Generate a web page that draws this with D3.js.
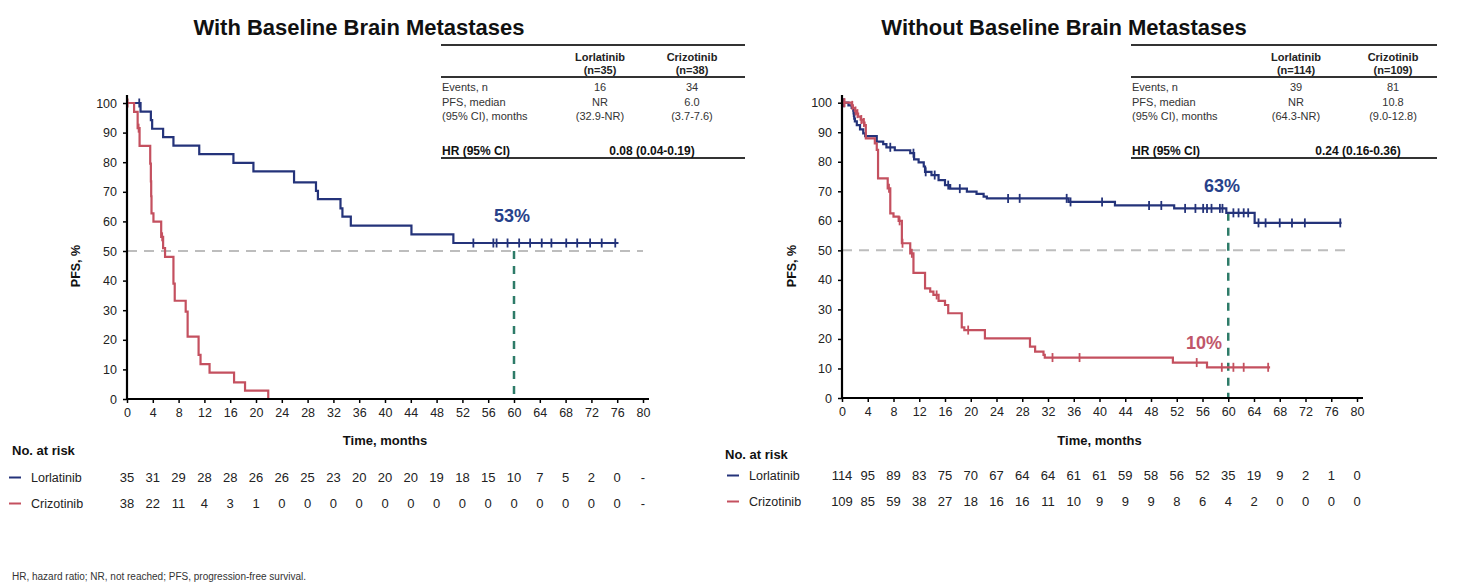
<!DOCTYPE html>
<html><head><meta charset="utf-8">
<script src="https://cdn.jsdelivr.net/npm/d3@7"></script>
<style>
body{margin:0;background:#fff;}
svg{display:block;font-family:"Liberation Sans",Arial,sans-serif;}
</style>
</head><body>
<svg id="c" width="1469" height="587"></svg>
<script>
// ---------------- DATA ----------------
const timeTicks = [0,4,8,12,16,20,24,28,32,36,40,44,48,52,56,60,64,68,72,76,80];
const pfsTicks = [0,10,20,30,40,50,60,70,80,90,100];
const armNames = ["Lorlatinib","Crizotinib"];

// With baseline brain metastases
const leftTitle = "With Baseline Brain Metastases";
const leftLorSteps = [[2.1,97.1],[3.7,94.2],[3.9,91.3],[5.6,88.5],[7.2,85.6],[11.2,82.7],[16.5,79.8],[19.6,76.9],[25.9,73.2],[29.3,70.3],[29.6,67.5],[33.1,64.4],[33.4,61.6],[34.7,58.6],[44.1,55.6],[50.6,52.7]];
const leftLorCensor = [1.9,53.7,56.8,57.3,59.0,60.8,62.5,64.3,65.8,68.1,69.8,71.8,73.6,75.7];
const leftLorEnd = 76.2;
const leftCriSteps = [[1.1,97.0],[1.65,91.5],[1.95,85.5],[3.6,79.5],[3.7,73.5],[3.75,68.5],[3.8,62.7],[4.1,59.9],[5.3,54.8],[5.6,51.0],[5.9,48.0],[7.2,39.0],[7.4,33.2],[9.1,29.5],[9.4,21.1],[11.1,14.9],[11.4,11.8],[12.8,8.9],[16.6,5.6],[18.3,2.8],[21.9,0]];
const leftCriCensor = [0.1,1.8,5.45];
const leftCriEnd = 21.9;
const leftTableHead = [["Lorlatinib","(n=35)"],["Crizotinib","(n=38)"]];
const leftTableRows = [["Events, n","16","34"],["PFS, median","NR","6.0"],["(95% CI), months","(32.9-NR)","(3.7-7.6)"]];
const leftHR = "0.08 (0.04-0.19)";
const leftLorRisk = ["35","31","29","28","28","26","26","25","23","20","20","20","19","18","15","10","7","5","2","0","-"];
const leftCriRisk = ["38","22","11","4","3","1","0","0","0","0","0","0","0","0","0","0","0","0","0","0","-"];
const leftLandmark = {time:60, label:"53%", from:50};

// Without baseline brain metastases
const rightTitle = "Without Baseline Brain Metastases";
const rightLorSteps = [[1.0,99.1],[1.5,98.2],[1.75,97.3],[1.8,96.4],[1.85,95.5],[1.9,94.6],[2.0,93.7],[2.3,92.4],[2.8,91.0],[3.3,89.6],[3.6,88.7],[5.4,86.8],[6.4,86.0],[6.9,84.9],[8.2,83.9],[10.6,82.9],[11.2,80.8],[11.9,79.8],[12.7,78.4],[12.9,76.6],[13.9,75.5],[15.0,73.8],[16.0,72.1],[16.8,70.9],[19.4,69.9],[20.9,69.1],[22.0,68.2],[22.5,67.6],[35.2,66.4],[42.4,65.2],[51.6,64.2],[59.7,62.7],[64.1,59.3]];
const rightLorCensor = [0.3,7.5,11.1,13.0,14.4,16.5,18.3,25.8,27.6,34.9,35.5,40.4,47.7,49.6,53.3,54.9,56.1,56.7,57.4,58.7,59.1,60.8,61.6,62.4,63.1,64.7,65.8,68.0,69.9,71.9,77.4];
const rightLorEnd = 77.6;
const rightCriSteps = [[1.5,99.1],[1.7,98.2],[2.0,97.2],[2.2,96.3],[2.5,95.3],[2.9,94.3],[3.3,93.3],[3.5,92.4],[3.7,87.9],[5.1,86.2],[5.4,84.0],[5.6,74.4],[7.1,71.0],[7.5,62.5],[8.0,61.4],[8.8,60.0],[9.3,52.4],[10.6,49.0],[11.1,42.4],[12.9,37.1],[13.7,36.0],[14.2,34.9],[15.0,32.9],[16.0,31.5],[16.5,28.7],[18.6,23.9],[19.0,23.0],[22.2,20.2],[29.2,17.4],[30.0,15.7],[31.3,14.6],[31.5,13.7],[51.4,12.0],[56.7,10.4]];
const rightCriCensor = [0.1,0.4,1.6,2.1,2.4,3.0,3.4,7.3,8.95,9.4,10.85,14.7,19.6,32.7,36.9,55.1,59.0,60.8,62.4,66.2];
const rightCriEnd = 66.5;
const rightTableHead = [["Lorlatinib","(n=114)"],["Crizotinib","(n=109)"]];
const rightTableRows = [["Events, n","39","81"],["PFS, median","NR","10.8"],["(95% CI), months","(64.3-NR)","(9.0-12.8)"]];
const rightHR = "0.24 (0.16-0.36)";
const rightLorRisk = ["114","95","89","83","75","70","67","64","64","61","61","59","58","56","52","35","19","9","2","1","0"];
const rightCriRisk = ["109","85","59","38","27","18","16","16","11","10","9","9","9","8","6","4","2","0","0","0","0"];
const rightLandmark = {time:60, label:"63%", from:62.7, label2:"10%"};

const footnote = "HR, hazard ratio; NR, not reached; PFS, progression-free survival.";

// ---------------- STYLE ----------------
const NAVY = "#24337a", RED = "#c4505f", TEAL = "#2d7b68", GRAY = "#bdbdbd", TXT = "#333";
const svg = d3.select("#c");

function survAt(steps, t){
  let v = 100;
  for (const s of steps){ if (s[0] <= t) v = s[1]; }
  return v;
}

function panel(o){
  const x = d3.scaleLinear().domain([0,80]).range([o.x0,o.x1]);
  const y = d3.scaleLinear().domain([0,100]).range([o.y0,o.y1]);
  const g = svg.append("g");

  // title
  svg.append("text").attr("x",o.titleX).attr("y",35).attr("text-anchor","middle")
    .attr("font-size",22).attr("font-weight","bold").attr("fill","#111").text(o.title);

  // 50% reference
  g.append("line").attr("x1",x(0)).attr("x2",x(o.refEnd)).attr("y1",y(50)).attr("y2",y(50))
    .attr("stroke",GRAY).attr("stroke-width",2).attr("stroke-dasharray","10,7");

  // landmark
  g.append("line").attr("x1",x(o.lm.time)).attr("x2",x(o.lm.time)).attr("y1",y(o.lm.from)).attr("y2",y(0))
    .attr("stroke",TEAL).attr("stroke-width",2.5).attr("stroke-dasharray","8,7");

  // curves
  const line = d3.line().x(d=>x(d[0])).y(d=>y(d[1])).curve(d3.curveStepAfter);
  o.arms.forEach(a=>{
    const pts = [[0,100], ...a.steps];
    pts.push([a.end, a.steps[a.steps.length-1][1]]);
    g.append("path").attr("d",line(pts)).attr("fill","none").attr("stroke",a.color).attr("stroke-width",2.2);
    g.selectAll(null).data(a.censor).enter().append("line")
      .attr("x1",d=>x(d)).attr("x2",d=>x(d))
      .attr("y1",d=>y(survAt(a.steps,d))-4.5).attr("y2",d=>y(survAt(a.steps,d))+4.5)
      .attr("stroke",a.color).attr("stroke-width",1.8);
  });

  // axes
  const xa = g.append("g").attr("transform",`translate(0,${o.y0})`)
    .call(d3.axisBottom(x).tickValues(timeTicks).tickSize(4).tickPadding(5).tickSizeOuter(0));
  const ya = g.append("g").attr("transform",`translate(${o.x0},0)`)
    .call(d3.axisLeft(y).tickValues(pfsTicks).tickSize(4).tickPadding(6).tickSizeOuter(0));
  [xa,ya].forEach(a=>{
    a.select(".domain").remove();
    a.selectAll(".tick line").attr("stroke","#000").attr("stroke-width",1.5);
    a.selectAll("text").attr("font-size",12.5).attr("fill","#222").attr("font-family","Liberation Sans, Arial, sans-serif");
  });
  g.append("line").attr("x1",o.x0).attr("x2",o.x0).attr("y1",o.y0+1).attr("y2",95).attr("stroke","#000").attr("stroke-width",2.2);
  g.append("line").attr("x1",o.x0-1).attr("x2",x(80)+6).attr("y1",o.y0).attr("y2",o.y0).attr("stroke","#000").attr("stroke-width",2.2);

  // axis labels
  svg.append("text").attr("transform",`translate(${o.yLabX},266) rotate(-90)`).attr("text-anchor","middle")
    .attr("font-size",12.5).attr("font-weight","bold").attr("fill","#111").text("PFS, %");
  svg.append("text").attr("x",(o.x0+x(80))/2).attr("y",445).attr("text-anchor","middle")
    .attr("font-size",13).attr("font-weight","bold").attr("fill","#111").text("Time, months");

  // percent labels
  o.pctLabels.forEach(p=>{
    svg.append("text").attr("x",p.x).attr("y",p.y).attr("text-anchor","middle")
      .attr("font-size",18).attr("font-weight","bold").attr("fill",p.color).text(p.text);
  });

  // table
  const t = o.table;
  const tg = svg.append("g").attr("font-size",11).attr("fill",TXT);
  tg.append("line").attr("x1",t.x0).attr("x2",t.x1).attr("y1",45).attr("y2",45).attr("stroke","#333").attr("stroke-width",2);
  tg.append("line").attr("x1",t.x0).attr("x2",t.x1).attr("y1",77).attr("y2",77).attr("stroke","#333").attr("stroke-width",2);
  tg.append("line").attr("x1",t.x0).attr("x2",t.x1).attr("y1",158).attr("y2",158).attr("stroke","#333").attr("stroke-width",2);
  t.head.forEach((h,i)=>{
    tg.append("text").attr("x",t.cols[i]).attr("y",61).attr("text-anchor","middle").attr("font-weight","bold").attr("fill","#222").text(h[0]);
    tg.append("text").attr("x",t.cols[i]).attr("y",74).attr("text-anchor","middle").attr("font-weight","bold").attr("fill","#222").text(h[1]);
  });
  t.rows.forEach((r,j)=>{
    const yy = 91 + j*14.5;
    tg.append("text").attr("x",t.x0+1).attr("y",yy).text(r[0]);
    tg.append("text").attr("x",t.cols[0]).attr("y",yy).attr("text-anchor","middle").text(r[1]);
    tg.append("text").attr("x",t.cols[1]).attr("y",yy).attr("text-anchor","middle").text(r[2]);
  });
  tg.append("text").attr("x",t.x0+1).attr("y",155).attr("font-weight","bold").attr("font-size",12).attr("fill","#111").text("HR (95% CI)");
  tg.append("text").attr("x",t.hrX).attr("y",155).attr("text-anchor","middle").attr("font-weight","bold").attr("font-size",12).attr("fill","#111").text(t.hr);

  // at risk
  const r = o.risk;
  svg.append("text").attr("x",r.labX).attr("y",r.headY).attr("font-size",13).attr("font-weight","bold").attr("fill","#111").text("No. at risk");
  r.rows.forEach((row,i)=>{
    const yy = r.rowY[i];
    svg.append("line").attr("x1",r.dashX).attr("x2",r.dashX+12).attr("y1",yy-4.5).attr("y2",yy-4.5).attr("stroke",row.color).attr("stroke-width",2);
    svg.append("text").attr("x",r.dashX+22).attr("y",yy).attr("font-size",12.5).attr("fill","#222").text(armNames[i]);
    svg.selectAll(null).data(row.vals).enter().append("text")
      .attr("x",(d,k)=>x(timeTicks[k])).attr("y",yy).attr("text-anchor","middle")
      .attr("font-size",13).attr("fill","#222").text(d=>d);
  });
}

panel({
  title:leftTitle, titleX:359, x0:127, x1:643, y0:399, y1:103, refEnd:80, yLabX:80,
  lm:leftLandmark,
  arms:[{steps:leftLorSteps,censor:leftLorCensor,end:leftLorEnd,color:NAVY},
        {steps:leftCriSteps,censor:leftCriCensor,end:leftCriEnd,color:RED}],
  pctLabels:[{x:512,y:222,text:leftLandmark.label,color:"#27418a"}],
  table:{x0:441,x1:745,cols:[600,692],head:leftTableHead,rows:leftTableRows,hr:leftHR,hrX:652},
  risk:{labX:12,headY:455,dashX:9,rowY:[482,508],rows:[{vals:leftLorRisk,color:NAVY},{vals:leftCriRisk,color:RED}]}
});
panel({
  title:rightTitle, titleX:1064, x0:842, x1:1357, y0:398, y1:102.7, refEnd:78.5, yLabX:796,
  lm:rightLandmark,
  arms:[{steps:rightLorSteps,censor:rightLorCensor,end:rightLorEnd,color:NAVY},
        {steps:rightCriSteps,censor:rightCriCensor,end:rightCriEnd,color:RED}],
  pctLabels:[{x:1222,y:192,text:rightLandmark.label,color:"#27418a"},{x:1204,y:349,text:rightLandmark.label2,color:"#c0566a"}],
  table:{x0:1131,x1:1437,cols:[1296,1393],head:rightTableHead,rows:rightTableRows,hr:rightHR,hrX:1358},
  risk:{labX:725,headY:459,dashX:727,rowY:[480,506],rows:[{vals:rightLorRisk,color:NAVY},{vals:rightCriRisk,color:RED}]}
});

svg.append("text").attr("x",12).attr("y",580).attr("font-size",10).attr("fill","#333").text(footnote);
</script>
</body></html>
